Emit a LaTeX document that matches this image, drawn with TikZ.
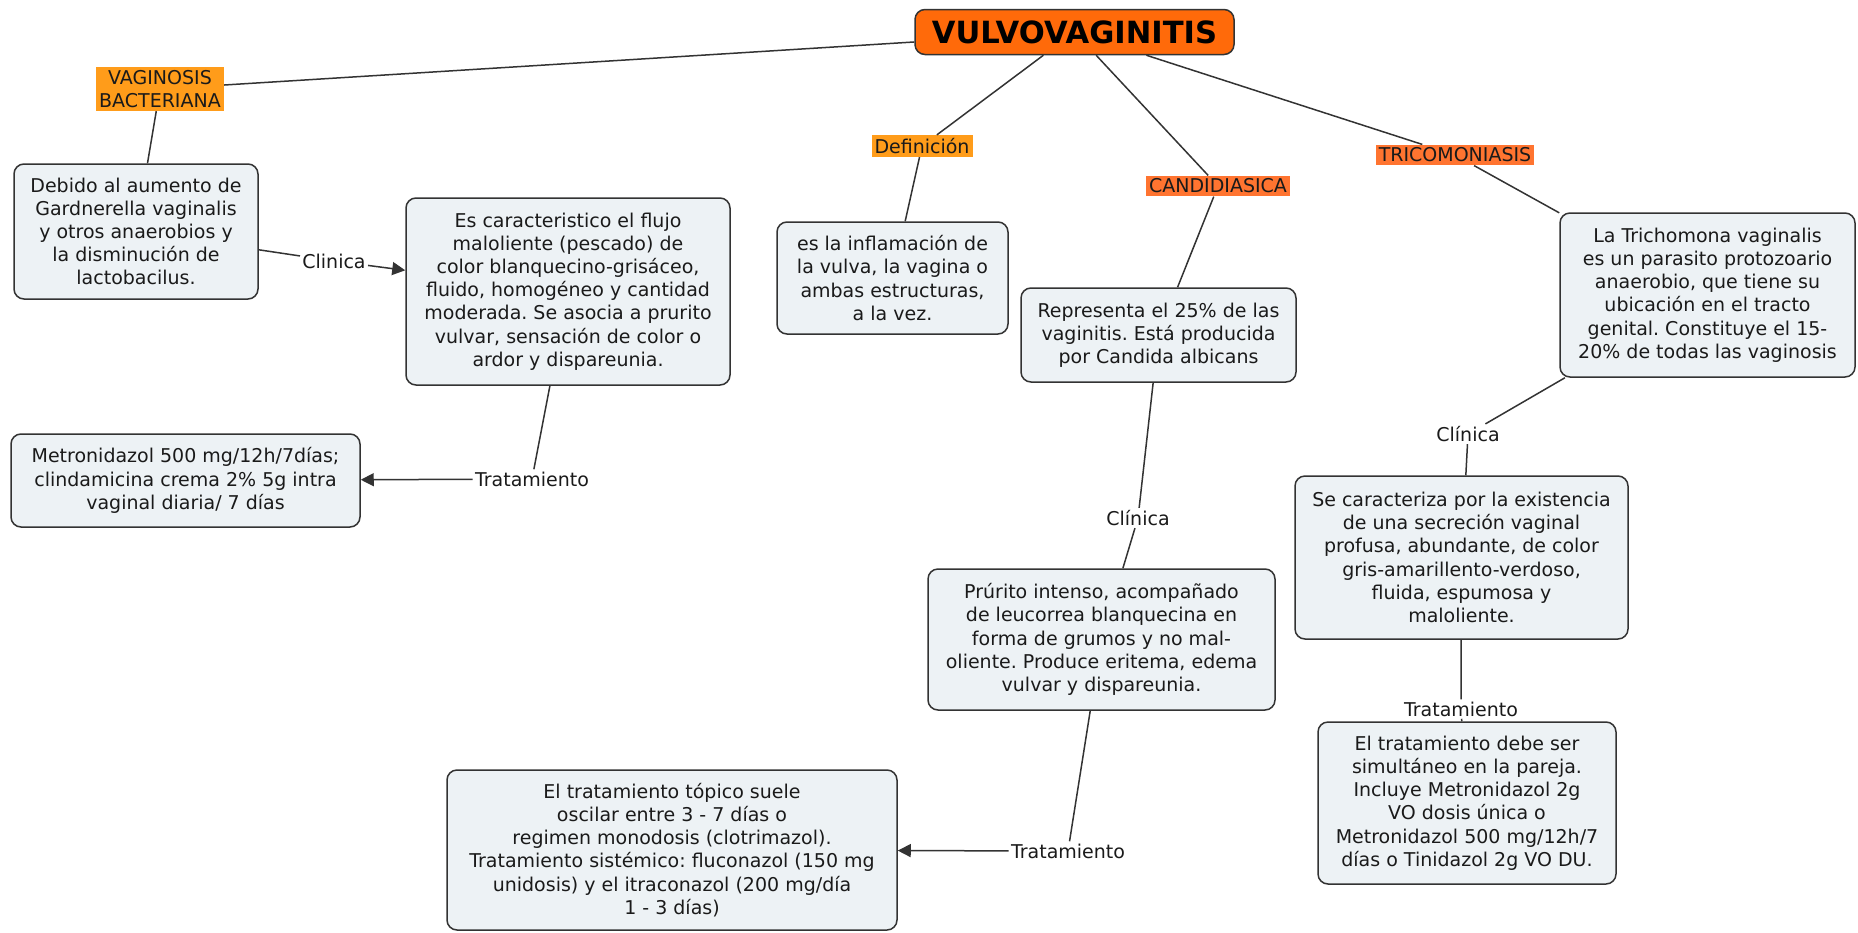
\documentclass[tikz,border=0pt]{standalone}
\usepackage{fontspec}
\setmainfont{DejaVu Sans}
\usepackage{tikz}
\usetikzlibrary{arrows.meta}
\frenchspacing
\definecolor{rootorange}{HTML}{FF6A0A}
\definecolor{amber}{HTML}{FF9C1A}
\definecolor{flame}{HTML}{FF7430}
\definecolor{cbox}{HTML}{EDF2F5}
\definecolor{outline}{HTML}{333333}
\definecolor{ink}{HTML}{1A1A1A}
\newcommand{\mapfont}{\fontsize{9.5pt}{11.6pt}\selectfont}
\tikzset{
  concept/.style={draw=outline,fill=cbox,line width=0.75pt,rounded corners=5pt,align=center,text=ink,font=\mapfont,inner sep=2pt},
  rootbox/.style={concept,fill=rootorange,text=black,font=\fontsize{15.3pt}{18pt}\selectfont\bfseries,minimum width=159.5pt,minimum height=22.5pt},
  topic/.style={fill=#1,inner sep=1.5pt,align=center,text=ink,font=\mapfont},
  link/.style={inner sep=1pt,text=ink,font=\mapfont},
  conn/.style={draw=outline,line width=0.75pt},
  arrow/.style={conn,-{Triangle[length=6.5pt,width=6.5pt]}},
}

\begin{document}
\begin{tikzpicture}[x=0.5pt,y=-0.5pt]
    \useasboundingbox (0,0) rectangle (1858,932);
    \node[rootbox] (root) at (1074.5,32) {VULVOVAGINITIS};
    \node[topic=amber] (vb) at (160,89) {VAGINOSIS\\BACTERIANA};
    \node[topic=amber] (def) at (922,146) {Definición};
    \node[topic=flame] (cand) at (1218,186) {CANDIDIASICA};
    \node[topic=flame] (tric) at (1455,155) {TRICOMONIASIS};

    \node[concept,minimum width=122pt,minimum height=67.5pt] (deb) at (136,231.5)
      {Debido al aumento de\\Gardnerella vaginalis\\y otros anaerobios y\\la disminución de\\lactobacilus.};
    \node[link] (vbclinl) at (334,261) {Clinica};
    \node[concept,minimum width=162pt,minimum height=93.5pt] (vbclin) at (568,291.5)
      {Es caracteristico el flujo\\maloliente (pescado) de\\color blanquecino-grisáceo,\\fluido, homogéneo y cantidad\\moderada. Se asocia a prurito\\vulvar, sensación de color o\\ardor y dispareunia.};
    \node[link] (vbtratl) at (532,479) {Tratamiento};
    \node[concept,minimum width=174.5pt,minimum height=46.5pt] (vbtrat) at (185.5,480.5)
      {Metronidazol 500 mg/12h/7días;\\clindamicina crema 2\% 5g intra\\vaginal diaria/ 7 días};

    \node[concept,minimum width=115.5pt,minimum height=56pt] (defbox) at (892.5,278)
      {es la inflamación de\\la vulva, la vagina o\\ambas estructuras,\\a la vez.};

    \node[concept,minimum width=137.5pt,minimum height=47pt] (candbox) at (1158.5,335)
      {Representa el 25\% de las\\vaginitis. Está producida\\por Candida albicans};
    \node[link] (candclinl) at (1138,518) {Clínica};
    \node[concept,minimum width=173.5pt,minimum height=70.5pt] (candclin) at (1101.5,639.5)
      {Prúrito intenso, acompañado\\de leucorrea blanquecina en\\forma de grumos y no mal-\\oliente. Produce eritema, edema\\vulvar y dispareunia.};
    \node[link] (candtratl) at (1068,851) {Tratamiento};
    \node[concept,minimum width=225pt,minimum height=80pt] (candtrat) at (672,850)
      {El tratamiento tópico suele\\oscilar entre 3 - 7 días o\\regimen monodosis (clotrimazol).\\Tratamiento sistémico: fluconazol (150 mg\\unidosis) y el itraconazol (200 mg/día\\1 - 3 días)};

    \node[concept,minimum width=147.5pt,minimum height=82pt] (tricbox) at (1707.5,295)
      {La Trichomona vaginalis\\es un parasito protozoario\\anaerobio, que tiene su\\ubicación en el tracto\\genital. Constituye el 15-\\20\% de todas las vaginosis};
    \node[link] (tricclinl) at (1468,434) {Clínica};
    \node[concept,minimum width=166.5pt,minimum height=81.5pt] (tricclin) at (1461.5,557.5)
      {Se caracteriza por la existencia\\de una secreción vaginal\\profusa, abundante, de color\\gris-amarillento-verdoso,\\fluida, espumosa y\\maloliente.};
    \node[link] (trictratl) at (1461,709) {Tratamiento};
    \node[concept,minimum width=149pt,minimum height=81pt] (trictrat) at (1467,803)
      {El tratamiento debe ser\\simultáneo en la pareja.\\Incluye Metronidazol 2g\\VO dosis única o\\Metronidazol 500 mg/12h/7\\días o Tinidazol 2g VO DU.};

    \draw[conn] (root) -- (vb);
    \draw[conn] (root) -- (def);
    \draw[conn] (root) -- (cand);
    \draw[conn] (root) -- (tric);
    \draw[conn] (vb) -- (deb);
    \draw[conn] (deb) -- (vbclinl);
    \draw[arrow] (vbclinl) -- (vbclin);
    \draw[conn] (vbclin) -- (vbtratl);
    \draw[arrow] (vbtratl) -- (vbtrat);
    \draw[conn] (def) -- (defbox);
    \draw[conn] (cand) -- (candbox);
    \draw[conn] (candbox) -- (candclinl);
    \draw[conn] (candclinl) -- (candclin);
    \draw[conn] (candclin) -- (candtratl);
    \draw[arrow] (candtratl) -- (candtrat);
    \draw[conn] (tric) -- (tricbox);
    \draw[conn] (tricbox) -- (tricclinl);
    \draw[conn] (tricclinl) -- (tricclin);
    \draw[conn] (tricclin) -- (trictratl);
    \draw[conn] (trictratl) -- (trictrat);
  \end{tikzpicture}
\end{document}
